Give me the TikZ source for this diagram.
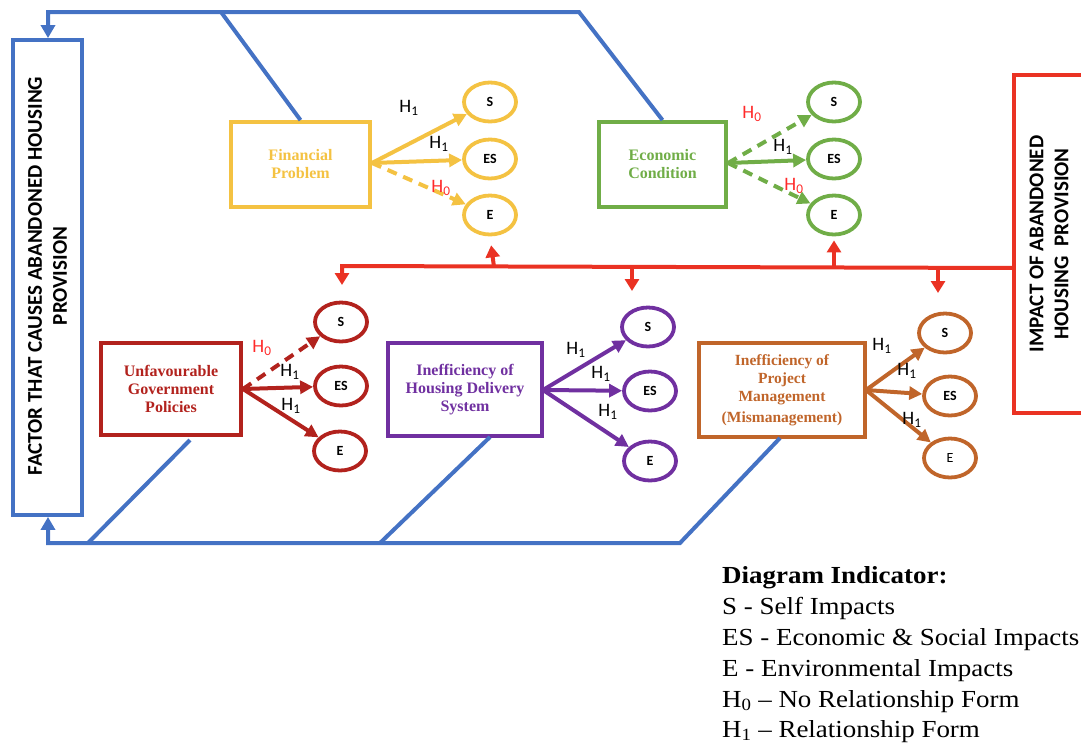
\documentclass[tikz,border=0pt]{standalone}
\usepackage{fontspec}
\setmainfont{Liberation Serif}
\newfontfamily\carl{Carlito}
\newfontfamily\legfont[FakeStretch=1.1,Ligatures=TeX]{Liberation Serif}
\usetikzlibrary{shapes.geometric,arrows.meta}
\definecolor{cblue}{HTML}{4472C4}
\definecolor{cyel}{HTML}{F4C242}
\definecolor{cgreen}{HTML}{70AD47}
\definecolor{cred}{HTML}{EA3223}
\definecolor{cdred}{HTML}{B2221D}
\definecolor{cpurp}{HTML}{7030A0}
\definecolor{corange}{HTML}{C0652A}
\definecolor{hzero}{HTML}{FF2A2A}
\newcommand{\hone}{H\textsubscript{1}}
\newcommand{\hzer}{H\textsubscript{0}}
\tikzset{
  box/.style={draw, line width=3.8pt, inner sep=0pt, align=center, font=\bfseries\fontsize{16}{18}\selectfont},
  oval/.style={draw, ellipse, line width=3.8pt, minimum width=52pt, minimum height=39pt, inner sep=0pt, text=black, font=\carl\bfseries\fontsize{14}{14}\selectfont},
  arr/.style={line width=4pt, -{Triangle[length=13pt,width=13pt]}},
  dsh/.style={dash pattern=on 10pt off 7pt},
  hl/.style={font=\carl\fontsize{19}{19}\selectfont, inner sep=0pt},
  bl/.style={cblue, line width=4pt},
  blarr/.style={cblue, line width=4pt, -{Triangle[length=13pt,width=14pt]}},
  redarr/.style={cred, line width=4pt, -{Triangle[length=12pt,width=14pt]}},
  bigtxt/.style={rotate=90, align=center, inner sep=0pt, font=\carl\bfseries\fontsize{21}{25}\selectfont},
  leg/.style={anchor=base west, inner sep=0pt, font=\legfont\fontsize{24.5}{24}\selectfont}
}
\begin{document}
\begin{tikzpicture}[x=1pt,y=-1pt]
\useasboundingbox (0,0) rectangle (1081,742);
\clip (0,0) rectangle (1081,742);
% side boxes
\node[draw=cblue, line width=3.8pt, minimum width=69pt, minimum height=475pt, inner sep=0pt] (lb) at (47.5,277.5) {};
\node[bigtxt] (lbt) at (47.5,276) {FACTOR THAT CAUSES ABANDONED HOUSING\\PROVISION};
\node[draw=cred, line width=3.8pt, minimum width=76pt, minimum height=338pt, inner sep=0pt] (rb) at (1052,244) {};
\node[bigtxt] (rbt) at (1049,244) {IMPACT OF ABANDONED\\HOUSING\ \ PROVISION};

% top row boxes
\node[box, draw=cyel, text=cyel, minimum width=139pt, minimum height=85pt] (fp) at (300.5,164.5) {Financial\\Problem};
\node[box, draw=cgreen, text=cgreen, minimum width=127pt, minimum height=85pt] (ec) at (662.5,164.5) {Economic\\Condition};
% bottom row boxes
\node[box, draw=cdred, text=cdred, minimum width=140pt, minimum height=92pt] (ug) at (171,389) {Unfavourable\\Government\\Policies};
\node[box, draw=cpurp, text=cpurp, minimum width=154pt, minimum height=93pt] (hd) at (465,389.5) {Inefficiency of\\Housing Delivery\\System};
\node[box, draw=corange, text=corange, minimum width=166pt, minimum height=94pt, font=\bfseries\fontsize{15.5}{18}\selectfont] (pm) at (782,390) {Inefficiency of\\Project\\Management\\[3pt](Mismanagement)};

% ellipses
\node[oval, draw=cyel] (fs) at (490,102) {S};
\node[oval, draw=cyel] (fes) at (490,159) {ES};
\node[oval, draw=cyel] (fe) at (490,215) {E};
\node[oval, draw=cgreen] (gs) at (834,102) {S};
\node[oval, draw=cgreen] (ges) at (834,159) {ES};
\node[oval, draw=cgreen] (ge) at (834,215) {E};
\node[oval, draw=cdred] (us) at (341,322) {S};
\node[oval, draw=cdred] (ues) at (341,386) {ES};
\node[oval, draw=cdred] (ue) at (340,451) {E};
\node[oval, draw=cpurp] (hs) at (648,327) {S};
\node[oval, draw=cpurp] (hes) at (650,391) {ES};
\node[oval, draw=cpurp] (he) at (650,461) {E};
\node[oval, draw=corange] (ps) at (945,333) {S};
\node[oval, draw=corange] (pes) at (950,396) {ES};
\node[oval, draw=corange, font=\carl\fontsize{14}{14}\selectfont] (pe) at (950,458) {E};

% arrow origins
\coordinate (fo) at (372,163);
\coordinate (go) at (728,163);
\coordinate (uo) at (243,389);
\coordinate (ho) at (543,390);
\coordinate (po) at (866,390);

\draw[arr, cyel] (fo) -- (fs);
\draw[arr, cyel] (fo) -- (fes);
\draw[arr, cyel, dsh] (fo) -- (fe);
\draw[arr, cgreen, dsh] (go) -- (gs);
\draw[arr, cgreen] (go) -- (ges);
\draw[arr, cgreen, dsh] (go) -- (ge);
\draw[arr, cdred, dsh] (uo) -- (us);
\draw[arr, cdred] (uo) -- (ues);
\draw[arr, cdred] (uo) -- (ue);
\draw[arr, cpurp] (ho) -- (hs);
\draw[arr, cpurp] (ho) -- (hes);
\draw[arr, cpurp] (ho) -- (he);
\draw[arr, corange] (po) -- (ps);
\draw[arr, corange] (po) -- (pes);
\draw[arr, corange] (po) -- (pe);

% hypothesis labels
\node[hl] (l1) at (409,108) {\hone};
\node[hl] (l2) at (439,144) {\hone};
\node[hl, text=hzero] (l3) at (441,188) {\hzer};
\node[hl, text=hzero] (l4) at (752,114) {\hzer};
\node[hl] (l5) at (783,147) {\hone};
\node[hl, text=hzero] (l6) at (794,186) {\hzer};
\node[hl, text=hzero] (l7) at (262,348) {\hzer};
\node[hl] (l8) at (290,372) {\hone};
\node[hl] (l9) at (291,406) {\hone};
\node[hl] (l10) at (576,350) {\hone};
\node[hl] (l11) at (601,374) {\hone};
\node[hl] (l12) at (608,412) {\hone};
\node[hl] (l13) at (882,346) {\hone};
\node[hl] (l14) at (907,371) {\hone};
\node[hl] (l15) at (912,420) {\hone};

% blue feedback lines
\coordinate (t1) at (48,12);
\coordinate (t2) at (579,12);
\coordinate (t3) at (221,12);
\draw[blarr] (ec.north) -- (t2) -- (t1) -- (t1 |- lb.north);
\draw[bl] (fp.north) -- (t3);
\coordinate (b1) at (48,543);
\coordinate (b2) at (680,543);
\coordinate (b3) at (88,543);
\coordinate (b4) at (380,543);
\coordinate (u1) at (190,440);
\coordinate (h1) at (490,437);
\coordinate (p1) at (780,438);
\draw[blarr] (p1) -- (b2) -- (b1) -- (b1 |- lb.south);
\draw[bl] (u1) -- (b3);
\draw[bl] (h1) -- (b4);

% red impact lines
\coordinate (r0) at (1014,268);
\coordinate (r1) at (342,266);
\coordinate (r2) at (342,285);
\draw[redarr] (r0) -- (r1) -- (r2);
\coordinate (r3) at (494,267);
\coordinate (r4) at (834,268);
\coordinate (r5) at (632,268);
\coordinate (r6) at (938,268);
\draw[redarr, shorten >=9pt] (r3) -- (fe.south);
\draw[redarr, shorten >=4pt] (r4) -- (ge.south);
\draw[redarr] (r5) -- (632,291);
\draw[redarr] (r6) -- (938,293);

% legend
\node[leg, font=\legfont\bfseries\fontsize{24.5}{24}\selectfont] (g1) at (722,583) {Diagram Indicator:};
\node[leg] (g2) at (722,614) {S - Self Impacts};
\node[leg] (g3) at (722,645) {ES - Economic \& Social Impacts};
\node[leg] (g4) at (722,676) {E - Environmental Impacts};
\node[leg] (g5) at (722,707) {\hzer\ \textendash\ No Relationship Form};
\node[leg] (g6) at (722,737) {\hone\ \textendash\ Relationship Form};
\end{tikzpicture}
\end{document}
